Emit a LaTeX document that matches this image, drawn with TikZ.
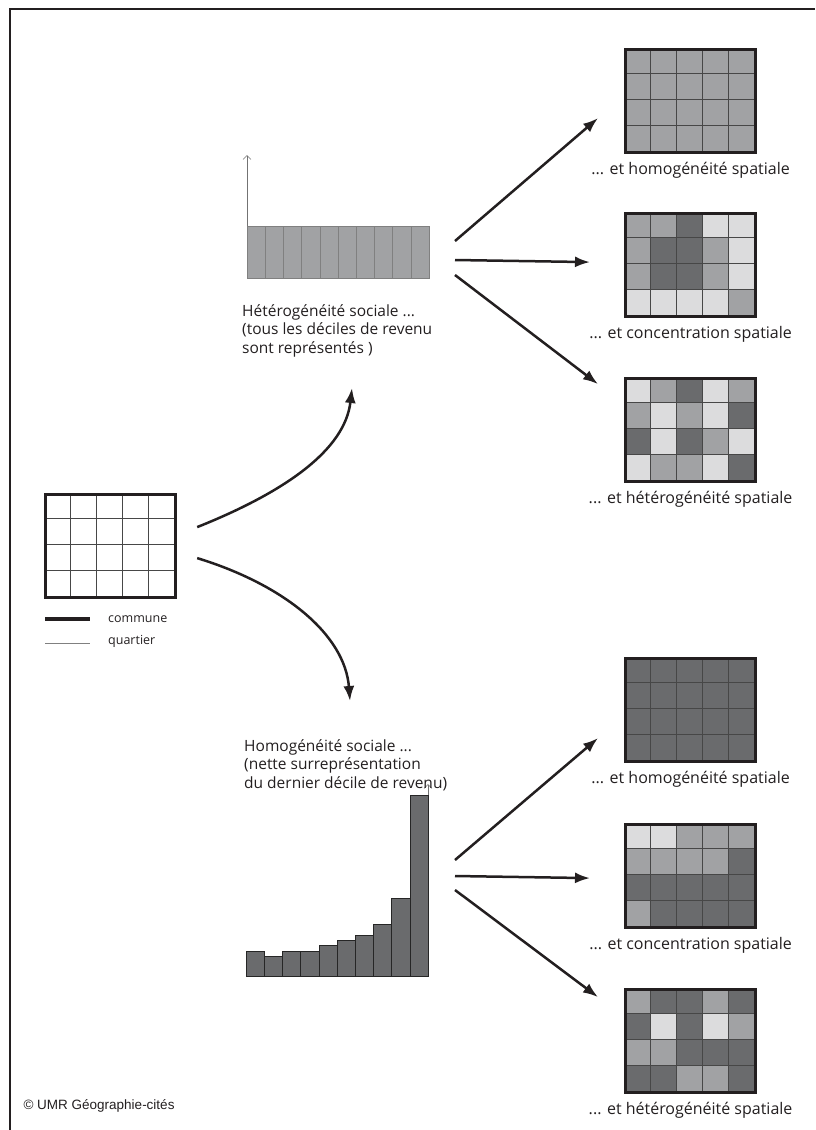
\documentclass[tikz,border=0pt]{standalone}
\usepackage{fontspec}
\setmainfont{Open Sans}
\newfontfamily\creditfont{Liberation Sans}
\usetikzlibrary{positioning,arrows.meta,calc}
\definecolor{clair}{HTML}{DCDCDD}
\definecolor{moyen}{HTML}{A1A2A4}
\definecolor{fonce}{HTML}{6A6B6D}
\definecolor{trait}{HTML}{231F20}

% one commune of 5 x 4 quartiers: name, x, y, colours row by row
\newcommand{\carte}[4]{%
  \foreach \c [count=\i from 0] in {#4} {
    \pgfmathtruncatemacro\ccol{mod(\i,5)}
    \pgfmathtruncatemacro\clig{div(\i,5)}
    \fill[\c] (#2+\ccol*26,#3+\clig*25.75) rectangle ++(26,25.75);
  }
  \foreach \k in {1,...,4} \draw[quartier] (#2+\k*26,#3) -- ++(0,103);
  \foreach \k in {1,2,3} \draw[quartier] (#2,#3+\k*25.75) -- ++(130,0);
  \node[cadre] (#1) at (#2,#3) {};
}

\begin{document}
\begin{tikzpicture}[x=1pt,y=-1pt]
    \tikzstyle{cadre}=[draw=trait,line width=3.2pt,minimum width=130pt,minimum height=103pt,inner sep=0pt,anchor=north west]
    \tikzstyle{quartier}=[draw=black!72,line width=0.8pt]
    \tikzstyle{legende}=[font=\fontsize{16}{18}\selectfont,text=trait,inner sep=0pt]
    \tikzstyle{texte}=[font=\fontsize{15.5}{18.8}\selectfont,text=trait,align=left,anchor=north west,inner sep=0pt]
    \tikzstyle{fleche}=[draw=trait,line width=2.5pt,-{Latex[length=15pt,width=11pt]}]
    \tikzstyle{axe}=[draw=black!55,line width=0.6pt,-{Straight Barb[length=4pt,width=8pt]}]
    \useasboundingbox (0,0) rectangle (815,1130);

    % frame
    \draw[trait,line width=1.6pt] (10,1130) -- (10,9) -- (815,9);

    % commune and legend
    \carte{base}{44}{493}{white,white,white,white,white,white,white,white,white,white,white,white,white,white,white,white,white,white,white,white}
    \node[legende,anchor=west,font=\fontsize{12.5}{15}\selectfont] (lcommune) at (108,619) {commune};
    \node[legende,anchor=west,font=\fontsize{12.5}{15}\selectfont] (lquartier) at (108,641) {quartier};
    \draw[trait,line width=3.6pt] ([xshift=-63pt]lcommune.west) -- ++(45,0);
    \draw[black!50,line width=0.6pt] ([xshift=-63pt,yshift=-2pt]lquartier.west) -- ++(45,0);

    % hétérogénéité sociale
    \foreach \i in {0,...,9} \draw[black!50,fill=moyen,line width=0.6pt] (247+\i*18.2,226) rectangle ++(18.2,52);
    \draw[axe] (247,226) -- (247,155);
    \node[texte] (hetero) at (242,304) {Hétérogénéité sociale ...\\(tous les déciles de revenu\\sont représentés )};

    % homogénéité sociale
    \foreach \h [count=\i from 0] in {951,956,951,951,945,940,935,924,898,795}
      \draw[black!85,fill=fonce,line width=0.6pt] (246+\i*18.2,976) rectangle ++(18.2,\h-976);
    \draw[axe] (428,795) -- (428,784);
    \node[texte] (homo) at (244,739) {Homogénéité sociale ...\\(nette surreprésentation\\du dernier décile de revenu)};

    % maps
    \def\M{moyen}\def\D{fonce}\def\L{clair}
    \carte{c1}{624}{48}{\M,\M,\M,\M,\M,\M,\M,\M,\M,\M,\M,\M,\M,\M,\M,\M,\M,\M,\M,\M}
    \carte{c2}{624}{212}{\M,\M,\D,\L,\L,\M,\D,\D,\M,\L,\M,\D,\D,\M,\L,\L,\L,\L,\L,\M}
    \carte{c3}{624}{377}{\L,\M,\D,\L,\M,\M,\L,\M,\L,\D,\D,\L,\D,\M,\L,\L,\M,\M,\L,\D}
    \carte{c4}{624}{657}{\D,\D,\D,\D,\D,\D,\D,\D,\D,\D,\D,\D,\D,\D,\D,\D,\D,\D,\D,\D}
    \carte{c5}{624}{823}{\L,\L,\M,\M,\M,\M,\M,\M,\M,\D,\D,\D,\D,\D,\D,\M,\D,\D,\D,\D}
    \carte{c6}{624}{988}{\M,\D,\D,\M,\D,\D,\L,\D,\L,\M,\M,\M,\D,\D,\D,\D,\D,\M,\M,\D}
    \node[legende,below=8pt of c1] {... et homogénéité spatiale};
    \node[legende,below=8pt of c2] {... et concentration spatiale};
    \node[legende,below=8pt of c3] {... et hétérogénéité spatiale};
    \node[legende,below=8pt of c4] {... et homogénéité spatiale};
    \node[legende,below=8pt of c5] {... et concentration spatiale};
    \node[legende,below=8pt of c6] {... et hétérogénéité spatiale};

    % arrows
    \coordinate (d1) at (455,241);  \coordinate (d2) at (455,260);  \coordinate (d3) at (455,275);
    \coordinate (e1) at (455,860);  \coordinate (e2) at (455,876);  \coordinate (e3) at (455,890);
    \coordinate (vh) at (352,388);  \coordinate (vo) at (350,701);
    \draw[fleche] (d1) -- ($(c1.west)+(-26,17)$);
    \draw[fleche] (d2) -- ($(c2.west)+(-34,-3)$);
    \draw[fleche] (d3) -- ($(c3.west)+(-26,-46)$);
    \draw[fleche] (e1) -- ($(c4.west)+(-26,28)$);
    \draw[fleche] (e2) -- ($(c5.west)+(-34,2)$);
    \draw[fleche] (e3) -- ($(c6.west)+(-26,-44)$);
    \draw[fleche] ($(base.east)+(20,-19)$) .. controls (285,492) and (345,450) .. (vh);
    \draw[fleche] ($(base.east)+(20,12)$) .. controls (285,585) and (345,635) .. (vo);

    \node[anchor=west,font=\creditfont\fontsize{13.5}{15}\selectfont,text=trait] (credit) at (20,1106) {© UMR Géographie-cités};
\end{tikzpicture}
\end{document}
